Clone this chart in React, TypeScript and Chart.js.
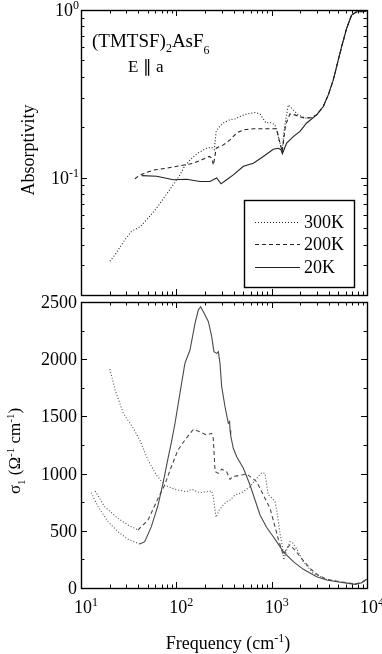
import React, { useEffect, useRef } from 'react';
import { Chart, registerables } from 'chart.js';
Chart.register(...registerables);

const FONT = '"Liberation Serif", "Times New Roman", serif';

// ---------- Top panel: absorptivity ----------
const TOP_FREQ_300 = [20.1, 22.8, 28.9, 34, 41.6, 50.8, 62.2, 76, 93, 109, 123, 140, 164, 208, 235, 250, 262, 275, 311, 366, 412, 466, 547, 669, 755, 873, 961, 1084, 1175, 1290, 1337, 1400, 1496, 1686, 1901, 2239, 2600, 2965, 3480, 3925, 4430, 5000, 5420, 6120, 6900, 7800, 9900];
const TOP_ABS_300 = [0.0318, 0.0348, 0.0428, 0.048, 0.051, 0.0575, 0.066, 0.0774, 0.091, 0.104, 0.118, 0.128, 0.139, 0.15, 0.152, 0.147, 0.19, 0.198, 0.212, 0.222, 0.224, 0.232, 0.24, 0.245, 0.24, 0.212, 0.214, 0.207, 0.176, 0.1435, 0.184, 0.22, 0.272, 0.254, 0.237, 0.227, 0.228, 0.237, 0.266, 0.312, 0.383, 0.504, 0.605, 0.778, 0.933, 0.977, 0.98];

const TOP_FREQ_200 = [36.8, 41.6, 45, 57.3, 79, 109, 151, 185, 222, 235, 245, 262, 311, 366, 430, 505, 643, 887, 1127, 1198, 1290, 1400, 1556, 1757, 2000, 2239, 2600, 2965, 3480, 3925, 4430, 5000, 5420, 6120, 6900, 7800, 9900];
const TOP_ABS_200 = [0.0986, 0.104, 0.1057, 0.111, 0.114, 0.118, 0.122, 0.128, 0.134, 0.131, 0.119, 0.15, 0.157, 0.168, 0.185, 0.193, 0.196, 0.196, 0.196, 0.168, 0.1435, 0.207, 0.24, 0.237, 0.23, 0.227, 0.228, 0.237, 0.266, 0.312, 0.383, 0.504, 0.605, 0.778, 0.933, 0.977, 0.98];

const TOP_FREQ_20 = [43.3, 62.2, 93, 128, 177, 225, 265, 294, 337, 396, 505, 643, 817, 1040, 1175, 1250, 1295, 1436, 1686, 1982, 2328, 2965, 3480, 3925, 4430, 5000, 5420, 6120, 6900, 7800, 9900];
const TOP_ABS_20 = [0.103, 0.102, 0.0973, 0.098, 0.095, 0.095, 0.0996, 0.092, 0.0973, 0.104, 0.117, 0.122, 0.134, 0.148, 0.15, 0.147, 0.139, 0.161, 0.176, 0.189, 0.212, 0.237, 0.266, 0.312, 0.383, 0.504, 0.605, 0.778, 0.933, 0.977, 0.98];

// ---------- Bottom panel: sigma_1 ----------
const BOT_FREQ_300 = [20.1, 22.8, 27.8, 35.4, 41.3, 50.5, 61.6, 75.5, 96, 127, 145, 177, 235, 244, 261, 282, 311, 337, 366, 412, 484, 593, 696, 787, 851, 922, 977, 1084, 1145, 1222, 1305, 1337, 1436, 1556, 1686, 1901, 2148, 2735, 3775, 5210, 7480, 8790, 9900];
const BOT_SIG_300 = [1914, 1731, 1527, 1396, 1294, 1119, 988, 900, 863, 842, 863, 833, 848, 798, 618, 682, 725, 755, 769, 813, 833, 885, 959, 1008, 1002, 813, 798, 754, 653, 478, 347, 245, 332, 405, 391, 317, 230, 128, 75, 55, 35, 46, 76];

const BOT_FREQ_200 = [14.1, 17.7, 24.4, 31.1, 39.6, 50.5, 64.3, 75.5, 88.6, 104, 123, 151, 177, 208, 235, 244, 255, 276, 299, 337, 366, 390, 484, 547, 696, 817, 961, 1084, 1175, 1273, 1324, 1436, 1556, 1757, 1982, 2524, 3000, 3775, 5210, 7480, 8790, 9900];
const BOT_SIG_200 = [848, 711, 609, 551, 507, 594, 784, 900, 1060, 1206, 1294, 1387, 1366, 1337, 1352, 1308, 1017, 1002, 1038, 1017, 950, 973, 988, 997, 929, 813, 697, 536, 425, 332, 288, 347, 376, 332, 274, 172, 118, 75, 55, 35, 46, 76];

const BOT_FREQ_20 = [12.8, 15.1, 19.2, 24.4, 31.1, 41.3, 46.6, 54.7, 64.3, 72.5, 81.8, 88.6, 96.9, 109, 123, 139, 157, 170, 180, 192, 217, 235, 248, 265, 276, 287, 299, 324, 351, 362, 366, 372, 396, 430, 505, 593, 669, 755, 887, 1040, 1127, 1324, 1686, 2148, 2965, 3775, 5210, 7480, 8790, 9900];
const BOT_SIG_20 = [833, 711, 580, 492, 425, 385, 405, 536, 725, 915, 1134, 1270, 1440, 1702, 1964, 2080, 2314, 2430, 2459, 2415, 2328, 2197, 2066, 2051, 2066, 1964, 1760, 1585, 1440, 1455, 1380, 1330, 1221, 1148, 1046, 900, 769, 638, 529, 448, 405, 317, 230, 163, 99, 70, 50, 32, 46, 76];

// extrapolated low-frequency parts drawn dotted
const EXTRAP_END_200 = 39.6;
const EXTRAP_END_20 = 41.3;

const X_DECADES = [10, 100, 1000, 10000];
const TOP_Y_MAJOR = [0.1, 1];
const BOT_Y_TICKS = [0, 250, 500, 750, 1000, 1250, 1500, 1750, 2000, 2250, 2500];
const BOT_Y_LABELS = [0, 500, 1000, 1500, 2000, 2500];
const LEGEND_LABELS = ['300K', '200K', '20K'];

const DOT = [1, 2];
const DASH = [4, 3];

type Part = { t: string; s?: 'sup' | 'sub'; dy?: number };

function drawRich(ctx: CanvasRenderingContext2D, parts: Part[], x: number, y: number, align: 'left' | 'right' | 'center', size: number) {
  const small = Math.round(size * 0.65);
  const fontFor = (p: Part) => (p.s ? `${small}px ${FONT}` : `${size}px ${FONT}`);
  const widths = parts.map((p) => {
    ctx.font = fontFor(p);
    return ctx.measureText(p.t).width;
  });
  const w = widths.reduce((a, b) => a + b, 0);
  let cx = align === 'left' ? x : align === 'right' ? x - w : x - w / 2;
  ctx.textAlign = 'left';
  ctx.textBaseline = 'alphabetic';
  parts.forEach((p, i) => {
    ctx.font = fontFor(p);
    const dy = p.dy !== undefined ? p.dy : p.s === 'sup' ? -size * 0.38 : p.s === 'sub' ? size * 0.27 : 0;
    ctx.fillText(p.t, cx, y + dy);
    cx += widths[i];
  });
}

function allXTicks(): { v: number; major: boolean }[] {
  const out: { v: number; major: boolean }[] = [];
  for (const d of [10, 100, 1000]) {
    for (let m = 1; m <= 9; m++) out.push({ v: m * d, major: m === 1 });
  }
  out.push({ v: 10000, major: true });
  return out;
}

function topYTicks(): { v: number; major: boolean }[] {
  const out: { v: number; major: boolean }[] = [];
  for (let m = 2; m <= 9; m++) out.push({ v: m * 0.01, major: false });
  out.push({ v: 0.1, major: true });
  for (let m = 2; m <= 9; m++) out.push({ v: m * 0.1, major: false });
  out.push({ v: 1, major: true });
  return out;
}

function makeFramePlugin(kind: 'top' | 'bottom') {
  return {
    id: 'frame_' + kind,
    afterDatasetsDraw(chart: any) {
      const ctx: CanvasRenderingContext2D = chart.ctx;
      const { left, right, top, bottom } = chart.chartArea;
      const xs = chart.scales.x;
      const ys = chart.scales.y;
      ctx.save();
      ctx.fillStyle = '#000';
      ctx.strokeStyle = '#000';
      ctx.setLineDash([]);
      // ticks
      ctx.lineWidth = 1;
      ctx.beginPath();
      for (const t of allXTicks()) {
        const px = Math.round(xs.getPixelForValue(t.v)) + 0.5;
        const len = t.major ? 6 : 3.5;
        ctx.moveTo(px, bottom);
        ctx.lineTo(px, bottom - len);
        ctx.moveTo(px, top);
        ctx.lineTo(px, top + len);
      }
      const yt = kind === 'top' ? topYTicks() : BOT_Y_TICKS.map((v) => ({ v, major: v % 500 === 0 }));
      for (const t of yt) {
        const py = Math.round(ys.getPixelForValue(t.v)) + 0.5;
        const len = t.major ? 6 : 3.5;
        ctx.moveTo(left, py);
        ctx.lineTo(left + len, py);
        ctx.moveTo(right, py);
        ctx.lineTo(right - len, py);
      }
      ctx.stroke();
      // frame
      ctx.lineWidth = 1.4;
      ctx.strokeRect(Math.round(left) + 0.5, Math.round(top) + 0.5, Math.round(right - left), Math.round(bottom - top));

      if (kind === 'top') {
        // y tick labels
        TOP_Y_MAJOR.forEach((v) => {
          const py = ys.getPixelForValue(v);
          const exp = Math.round(Math.log10(v));
          drawRich(ctx, [{ t: '10' }, { t: String(exp), s: 'sup' }], 79, py + 6, 'right', 18);
        });
        // y axis title
        ctx.save();
        ctx.translate(29, 150);
        ctx.rotate(-Math.PI / 2);
        ctx.font = `18px ${FONT}`;
        ctx.textAlign = 'center';
        ctx.textBaseline = 'middle';
        ctx.fillText('Absorptivity', 0, 0);
        ctx.restore();
        // annotation
        drawRich(ctx, [{ t: '(TMTSF)' }, { t: '2', s: 'sub', dy: 5 }, { t: 'AsF' }, { t: '6', s: 'sub', dy: 7 }], 92, 47, 'left', 19);
        drawRich(ctx, [{ t: 'E \u2225 a' }], 128, 72, 'left', 17);
        // legend
        const lx0 = 244, ly0 = 200, lx1 = 354, ly1 = 287;
        ctx.fillStyle = '#fff';
        ctx.fillRect(lx0, ly0, lx1 - lx0, ly1 - ly0);
        ctx.strokeStyle = '#000';
        ctx.lineWidth = 1.4;
        ctx.strokeRect(lx0 + 0.5, ly0 + 0.5, lx1 - lx0, ly1 - ly0);
        const rows = [222, 244, 267];
        chart.data.datasets.forEach((ds: any, i: number) => {
          ctx.strokeStyle = ds.borderColor;
          ctx.lineWidth = 1.2;
          ctx.setLineDash(ds.borderDash || []);
          ctx.beginPath();
          ctx.moveTo(255, rows[i] + 0.5);
          ctx.lineTo(300, rows[i] + 0.5);
          ctx.stroke();
          ctx.setLineDash([]);
          ctx.fillStyle = '#000';
          ctx.font = `18px ${FONT}`;
          ctx.textAlign = 'left';
          ctx.textBaseline = 'middle';
          ctx.fillText(LEGEND_LABELS[i], 304, rows[i] + 1);
        });
      } else {
        BOT_Y_LABELS.forEach((v) => {
          const py = ys.getPixelForValue(v);
          drawRich(ctx, [{ t: String(v) }], 77, py + 6, 'right', 18);
        });
        X_DECADES.forEach((v) => {
          const px = xs.getPixelForValue(v);
          const exp = Math.round(Math.log10(v));
          drawRich(ctx, [{ t: '10' }, { t: String(exp), s: 'sup' }], px - 7, 613, 'left', 18);
        });
        drawRich(ctx, [{ t: 'Frequency (cm' }, { t: '-1', s: 'sup' }, { t: ')' }], 228, 649, 'center', 18);
        ctx.save();
        ctx.translate(20, 451);
        ctx.rotate(-Math.PI / 2);
        drawRich(ctx, [{ t: '\u03C3' }, { t: '1', s: 'sub' }, { t: ' (\u03A9' }, { t: '-1', s: 'sup' }, { t: ' cm' }, { t: '-1', s: 'sup' }, { t: ')' }], 0, 0, 'center', 17);
        ctx.restore();
      }
      ctx.restore();
    },
  };
}

function pts(xs: number[], ys: number[]) {
  return xs.map((x, i) => ({ x, y: ys[i] }));
}

const TOP_COLOR = '#222';
const BOT_COLOR = '#4a4a4a';

export default function App() {
  const topRef = useRef<HTMLCanvasElement>(null);
  const botRef = useRef<HTMLCanvasElement>(null);

  useEffect(() => {
    const common = (padding: any) => ({
      responsive: false,
      animation: false as const,
      devicePixelRatio: 1,
      layout: { padding },
      plugins: { legend: { display: false }, tooltip: { enabled: false } },
      elements: { point: { radius: 0 }, line: { tension: 0, borderWidth: 1 } },
    });

    const top = new Chart(topRef.current!, {
      type: 'line',
      data: {
        datasets: [
          { label: '300K', data: pts(TOP_FREQ_300, TOP_ABS_300), borderColor: TOP_COLOR, borderDash: DOT, borderWidth: 1.1, fill: false },
          { label: '200K', data: pts(TOP_FREQ_200, TOP_ABS_200), borderColor: TOP_COLOR, borderDash: DASH, borderWidth: 1.1, fill: false },
          { label: '20K', data: pts(TOP_FREQ_20, TOP_ABS_20), borderColor: TOP_COLOR, borderWidth: 1.1, fill: false },
        ],
      },
      options: {
        ...common({ left: 81, right: 15, top: 10, bottom: 654 - 295 }),
        scales: {
          x: { type: 'logarithmic', min: 10, max: 10000, display: false },
          y: { type: 'logarithmic', min: 0.02, max: 1, display: false },
        },
      } as any,
      plugins: [makeFramePlugin('top')],
    });

    const bot = new Chart(botRef.current!, {
      type: 'line',
      data: {
        datasets: [
          { label: '300K', data: pts(BOT_FREQ_300, BOT_SIG_300), borderColor: BOT_COLOR, borderDash: DOT, borderWidth: 1.1, fill: false },
          {
            label: '200K',
            data: pts(BOT_FREQ_200, BOT_SIG_200),
            borderColor: BOT_COLOR,
            borderDash: DASH,
            borderWidth: 1.1,
            fill: false,
            segment: { borderDash: (c: any) => (c.p1.parsed.x <= EXTRAP_END_200 ? DOT : undefined) },
          },
          {
            label: '20K',
            data: pts(BOT_FREQ_20, BOT_SIG_20),
            borderColor: BOT_COLOR,
            borderWidth: 1.1,
            fill: false,
            segment: { borderDash: (c: any) => (c.p1.parsed.x <= EXTRAP_END_20 ? DOT : undefined) },
          },
        ],
      },
      options: {
        ...common({ left: 81, right: 15, top: 302, bottom: 654 - 588 }),
        scales: {
          x: { type: 'logarithmic', min: 10, max: 10000, display: false },
          y: { type: 'linear', min: 0, max: 2500, display: false },
        },
      } as any,
      plugins: [makeFramePlugin('bottom')],
    });

    return () => {
      top.destroy();
      bot.destroy();
    };
  }, []);

  const cs: React.CSSProperties = { position: 'absolute', left: 0, top: 0, width: 382, height: 654 };
  return (
    <div style={{ position: 'absolute', left: 0, top: 0, width: 382, height: 654, background: '#fff' }}>
      <canvas ref={topRef} width={382} height={654} style={cs} />
      <canvas ref={botRef} width={382} height={654} style={cs} />
    </div>
  );
}
